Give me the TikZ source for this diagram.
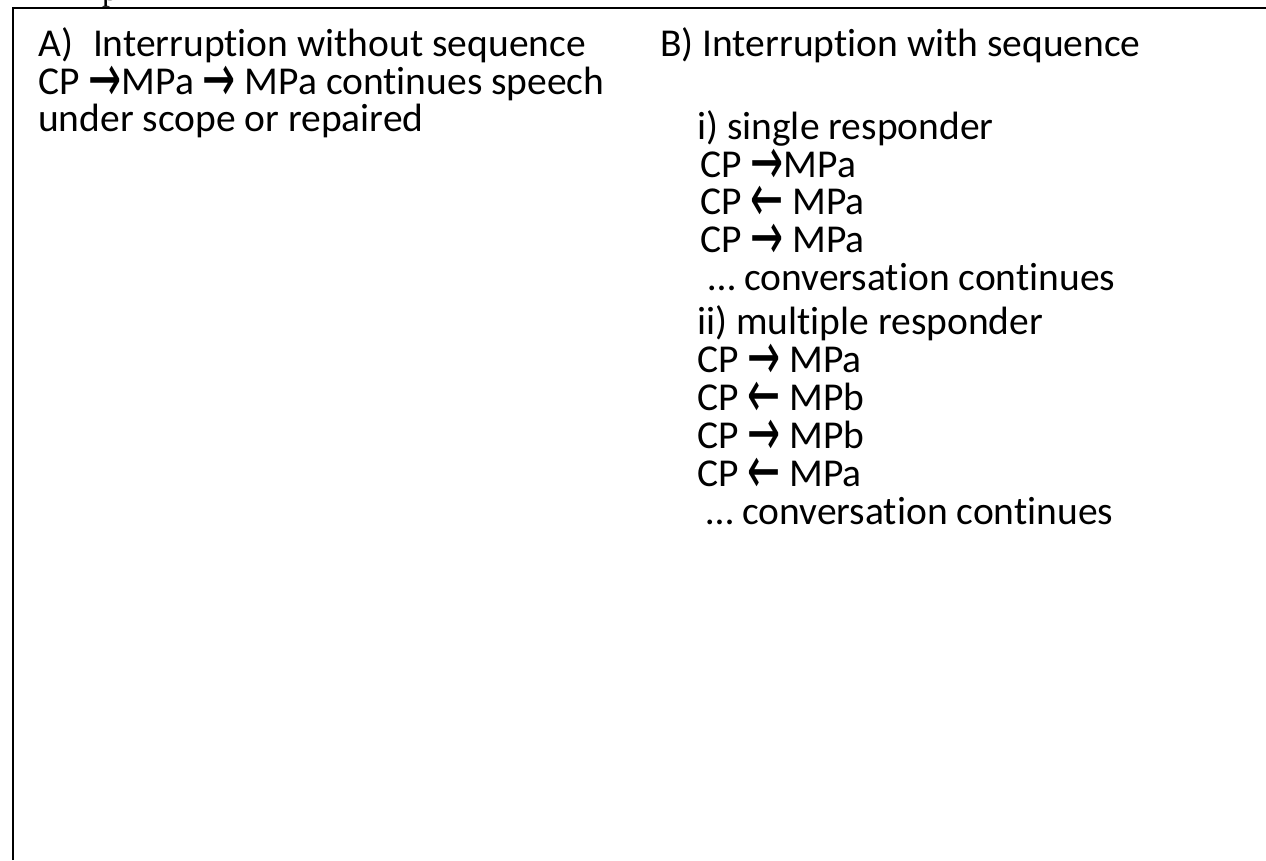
\documentclass[tikz,border=0pt]{standalone}
\usepackage{fontspec}
\usepackage{graphicx}
\setmainfont{Carlito}[Ligatures=NoCommon]
\newfontfamily\arrowfont{DejaVu Sans}
\newfontfamily\capfont{Liberation Serif}
\newcommand{\toarr}{\smash{\raisebox{-0.19em}{\scalebox{1}[1.7]{\arrowfont →}}}}
\newcommand{\fromarr}{\smash{\raisebox{-0.19em}{\scalebox{1}[1.7]{\arrowfont ←}}}}
\begin{document}
\begin{tikzpicture}[x=1pt,y=-1pt,
  txt/.style={anchor=base west,inner sep=0pt,font=\fontsize{39.5}{44}\selectfont},
  frame/.style={line width=2pt,black}]
\useasboundingbox (0,0) rectangle (1266,860);

% Rahmen
\draw[frame] (13,860) -- (13,8) -- (1266,8);

% abgeschnittene Zeile oben
\begin{scope}
\clip (80,0) rectangle (140,7);
\node[anchor=base west,inner sep=0pt,font=\capfont\fontsize{32}{36}\selectfont] (cut) at (102,0) {p};
\end{scope}

% A
\node[txt] (a1) at (38,56) {A)\hspace{20pt}Interruption without sequence};
\node[txt] (a2) at (38,94) {CP \toarr MPa \toarr{} MPa continues speech};
\node[txt] (a3) at (38,131) {under scope or repaired};

% B
\node[txt] (b0) at (660,56) {B) Interruption with sequence};

% i
\node[txt] (i0) at (697,139) {i) single responder};
\node[txt] (i1) at (700,177) {CP \toarr MPa};
\node[txt] (i2) at (700,214) {CP \fromarr{} MPa};
\node[txt] (i3) at (700,252) {CP \toarr{} MPa};
\node[txt] (i4) at (708,290) {\dots{} conversation continues};

% ii
\node[txt] (ii0) at (697,334) {ii) multiple responder};
\node[txt] (ii1) at (697,372) {CP \toarr{} MPa};
\node[txt] (ii2) at (697,410) {CP \fromarr{} MPb};
\node[txt] (ii3) at (697,448) {CP \toarr{} MPb};
\node[txt] (ii4) at (697,486) {CP \fromarr{} MPa};
\node[txt] (ii5) at (706,524) {\dots{} conversation continues};

\end{tikzpicture}
\end{document}
